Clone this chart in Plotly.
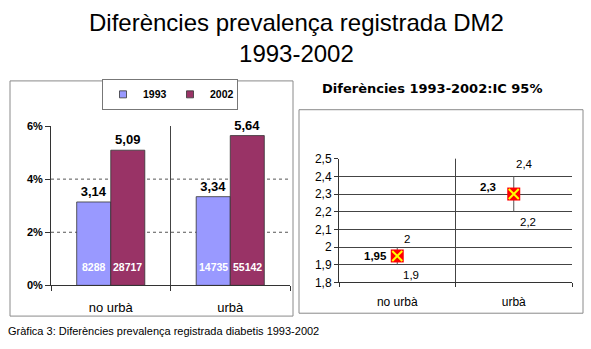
import plotly.graph_objects as go

# ---- data ----
categories = ["no urbà", "urbà"]
years = ["1993", "2002"]
prev_1993 = [3.14, 3.34]
prev_2002 = [5.09, 5.64]
n_1993 = [8288, 14735]
n_2002 = [28717, 55142]
left_ticks = [0, 2, 4, 6]
left_ticktext = ["0%", "2%", "4%", "6%"]

diff_point = [1.95, 2.3]
diff_low = [1.9, 2.2]
diff_high = [2.0, 2.4]
right_ticks = [1.8, 1.9, 2.0, 2.1, 2.2, 2.3, 2.4, 2.5]

title_text = "Diferències prevalença registrada DM2<br>1993-2002"
right_title = "Diferències 1993-2002:IC 95%"
caption = "Gràfica 3: Diferències prevalença registrada diabetis 1993-2002"

W, H = 591, 349
def px(x):
    return x / W
def py(y):
    return 1 - y / H

ARIAL = "Liberation Sans, Arial, sans-serif"
col93 = "#9999FF"
col02 = "#993366"

fig = go.Figure()

for vals, name, col in [(prev_1993, years[0], col93), (prev_2002, years[1], col02)]:
    fig.add_trace(go.Bar(
        x=categories, y=vals, name=name, marker_color=col, showlegend=False,
        marker_line=dict(color="#333333", width=0.8),
        text=vals, texttemplate="%{y:.2f}", textposition="outside",
        textfont=dict(family=ARIAL, size=13, color="black", weight="bold"),
        cliponaxis=False, xaxis="x", yaxis="y"))

# legend entries with small square swatches
for name, col in [(years[0], col93), (years[1], col02)]:
    fig.add_trace(go.Scatter(
        x=[None], y=[None], mode="markers", name=name,
        marker=dict(symbol="square", size=7, color=col, line=dict(color="#333333", width=0.8)),
        xaxis="x", yaxis="y"))

# error bars (high-low)
fig.add_trace(go.Scatter(
    x=categories, y=diff_point, mode="markers", showlegend=False,
    marker=dict(symbol="square", size=13, color="#FF0000", line=dict(width=0)),
    error_y=dict(type="data", symmetric=False,
                 array=[h - p for h, p in zip(diff_high, diff_point)],
                 arrayminus=[p - l for p, l in zip(diff_point, diff_low)],
                 color="#555555", thickness=1, width=0),
    xaxis="x2", yaxis="y2", cliponaxis=False))
fig.add_trace(go.Scatter(
    x=categories, y=diff_point, mode="markers", showlegend=False,
    marker=dict(symbol="x-thin", size=10, color="#FFFF00",
                line=dict(width=2, color="#FFFF00")),
    xaxis="x2", yaxis="y2", cliponaxis=False))

annotations = []
# counts inside bars
for i, c in enumerate(categories):
    annotations.append(dict(x=c, y=0, xref="x", yref="y", text=str(n_1993[i]),
                            xshift=-17, yshift=18, showarrow=False,
                            font=dict(family=ARIAL, size=10.5, color="white", weight="bold")))
    annotations.append(dict(x=c, y=0, xref="x", yref="y", text=str(n_2002[i]),
                            xshift=17, yshift=18, showarrow=False,
                            font=dict(family=ARIAL, size=10.5, color="white", weight="bold")))

def fmt(v):
    s = f"{v:g}"
    return s.replace(".", ",")

lab_font = dict(family=ARIAL, size=11.5, color="black")
bold_font = dict(family=ARIAL, size=11.5, color="black", weight="bold")
# right chart labels
annotations.append(dict(x=categories[0], y=diff_point[0], xref="x2", yref="y2",
                        text=fmt(diff_point[0]), xshift=-22, yshift=0, showarrow=False, font=bold_font))
annotations.append(dict(x=categories[0], y=diff_high[0], xref="x2", yref="y2",
                        text=fmt(diff_high[0]), xshift=10, yshift=8, showarrow=False, font=lab_font))
annotations.append(dict(x=categories[0], y=diff_low[0], xref="x2", yref="y2",
                        text=fmt(diff_low[0]), xshift=14, yshift=-10, showarrow=False, font=lab_font))
annotations.append(dict(x=categories[1], y=diff_point[1], xref="x2", yref="y2",
                        text=fmt(diff_point[1]), xshift=-26, yshift=7, showarrow=False, font=bold_font))
annotations.append(dict(x=categories[1], y=diff_high[1], xref="x2", yref="y2",
                        text=fmt(diff_high[1]), xshift=11, yshift=12, showarrow=False, font=lab_font))
annotations.append(dict(x=categories[1], y=diff_low[1], xref="x2", yref="y2",
                        text=fmt(diff_low[1]), xshift=14, yshift=-10, showarrow=False, font=lab_font))

# titles and caption
annotations.append(dict(x=px(296), y=py(32), xref="paper", yref="paper", text=title_text,
                        showarrow=False, xanchor="center", yanchor="middle",
                        font=dict(family=ARIAL, size=24, color="black")))
annotations.append(dict(x=px(432), y=py(85), xref="paper", yref="paper", text=right_title,
                        showarrow=False, xanchor="center", yanchor="middle",
                        font=dict(family="DejaVu Sans, Verdana, sans-serif", size=13,
                                  color="black", weight="bold")))
annotations.append(dict(x=px(6), y=py(338), xref="paper", yref="paper", text=caption,
                        showarrow=False, xanchor="left", yanchor="middle",
                        font=dict(family=ARIAL, size=11, color="black")))

shapes = []
# panel boxes
shapes.append(dict(type="rect", xref="paper", yref="paper", x0=px(10), x1=px(293),
                   y0=py(322), y1=py(77), line=dict(color="#8a8a8a", width=1), layer="below"))
shapes.append(dict(type="rect", xref="paper", yref="paper", x0=px(299), x1=px(583),
                   y0=py(319), y1=py(107), line=dict(color="#8a8a8a", width=1), layer="below"))
# left dashed gridlines
for t in left_ticks[1:-1]:
    shapes.append(dict(type="line", xref="x domain", yref="y", x0=0, x1=1, y0=t, y1=t,
                       line=dict(color="#555555", width=1, dash="dot"), layer="below"))
# dividers
shapes.append(dict(type="line", xref="x domain", yref="y domain", x0=0.5, x1=0.5, y0=0, y1=1,
                   line=dict(color="#444444", width=1), layer="below"))
shapes.append(dict(type="line", xref="x2 domain", yref="y2 domain", x0=0.5, x1=0.5, y0=0, y1=1,
                   line=dict(color="#444444", width=1), layer="below"))

fig.update_layout(
    width=W, height=H, margin=dict(l=0, r=0, t=0, b=0),
    paper_bgcolor="white", plot_bgcolor="white",
    separators=",.",
    barmode="group", bargap=0.43, bargroupgap=0,
    showlegend=True,
    legend=dict(orientation="h", x=px(170), y=py(91), xanchor="center", yanchor="middle",
                bordercolor="#777777", borderwidth=1, bgcolor="white",
                font=dict(family=ARIAL, size=10.5, color="black", weight="bold"),
                itemwidth=30, entrywidth=22, entrywidthmode="pixels",
                traceorder="normal", itemclick=False),
    xaxis=dict(domain=[px(51), px(290)], type="category", range=[-0.5, 1.5],
               showline=True, linecolor="#333333", linewidth=1,
               ticks="outside", tickson="boundaries", ticklen=5, tickcolor="#333333",
               showgrid=False, ticklabelstandoff=10,
               tickfont=dict(family=ARIAL, size=13, color="black"), anchor="y"),
    yaxis=dict(domain=[py(290), py(124)], range=[0, 6], tickvals=left_ticks,
               ticktext=left_ticktext, showgrid=False, zeroline=False,
               showline=True, linecolor="#333333", linewidth=1,
               ticks="outside", ticklen=5, tickcolor="#333333",
               tickfont=dict(family=ARIAL, size=11, color="black", weight="bold"), anchor="x"),
    xaxis2=dict(domain=[px(339), px(572)], type="category", range=[-0.5, 1.5],
                showline=True, linecolor="#333333", linewidth=1,
                ticks="outside", tickson="boundaries", ticklen=4, tickcolor="#333333",
                showgrid=False, ticklabelstandoff=8,
                tickfont=dict(family=ARIAL, size=12, color="black"), anchor="y2"),
    yaxis2=dict(domain=[py(287), py(158)], range=[1.8, 2.5], tickvals=right_ticks,
                showgrid=True, gridcolor="#444444", gridwidth=1, zeroline=False,
                showline=True, linecolor="#333333", linewidth=1,
                ticks="outside", ticklen=4, tickcolor="#333333",
                tickfont=dict(family=ARIAL, size=12, color="black"), anchor="x2"),
    annotations=annotations, shapes=shapes,
)

fig.write_html("out.html")
